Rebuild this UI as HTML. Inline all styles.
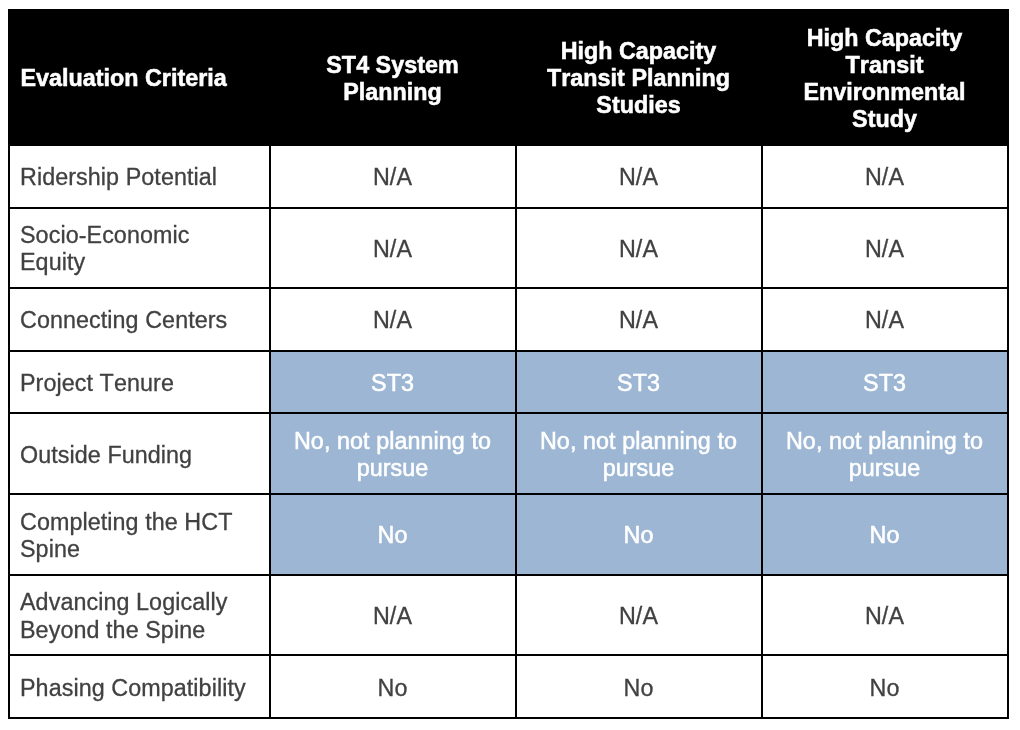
<!DOCTYPE html>
<html><head><meta charset="utf-8"><title>Evaluation Criteria</title><style>
html,body{margin:0;padding:0;background:#fff;}
body{width:1020px;height:730px;position:relative;overflow:hidden;font-family:"Liberation Sans",sans-serif;font-size:23.3px;line-height:27px;color:#414141;}
.wrap{position:absolute;left:0;top:0;width:1020px;height:730px;will-change:transform;transform:translateZ(0);}
.c span{display:block;position:relative;top:1px;letter-spacing:0.08px;font-kerning:none;-webkit-text-stroke:0.3px currentColor;}
.c:not(.l) span{left:-0.5px;}
.c.b span{-webkit-text-stroke:0.55px currentColor;}
.c.h span{letter-spacing:0.03px;-webkit-text-stroke:0.55px currentColor;}
.c span i{font-style:normal;position:relative;top:1px;}
.hd{position:absolute;left:8px;top:9px;width:1001px;height:137px;background:#000;}
.bd{position:absolute;left:8px;top:146px;width:1001px;height:573px;background:#000;}
.c{position:absolute;display:flex;align-items:center;justify-content:center;text-align:center;background:#fff;box-sizing:border-box;}
.c.l{justify-content:flex-start;text-align:left;padding-left:10px;}
.c.h{background:transparent;color:#fff;font-weight:bold;}
.c.h.l span{left:0.4px;}
.c.b{background:#9cb6d4;color:#fff;}
</style></head><body>
<div class="wrap"><div class="hd"></div><div class="bd"></div>
<div class="c h l" style="left:10px;top:9px;width:259px;height:137px"><span>Evaluation Criteria</span></div>
<div class="c h" style="left:271px;top:9px;width:244px;height:137px"><span>ST4 System<br>Planning</span></div>
<div class="c h" style="left:517px;top:9px;width:244px;height:137px"><span>High Capacity<br>Transit Planning<br>Studies</span></div>
<div class="c h" style="left:763px;top:9px;width:244px;height:137px"><span>High Capacity<br>Transit<br>Environmental<br>Study</span></div>
<div class="c l" style="left:10px;top:146px;width:259px;height:61px"><span>Ridership Potential</span></div>
<div class="c" style="left:271px;top:146px;width:244px;height:61px"><span>N/A</span></div>
<div class="c" style="left:517px;top:146px;width:244px;height:61px"><span>N/A</span></div>
<div class="c" style="left:763px;top:146px;width:244px;height:61px"><span>N/A</span></div>
<div class="c l" style="left:10px;top:209px;width:259px;height:78px"><span>Socio-Economic<br>Equity</span></div>
<div class="c" style="left:271px;top:209px;width:244px;height:78px"><span>N/A</span></div>
<div class="c" style="left:517px;top:209px;width:244px;height:78px"><span>N/A</span></div>
<div class="c" style="left:763px;top:209px;width:244px;height:78px"><span>N/A</span></div>
<div class="c l" style="left:10px;top:289px;width:259px;height:61px"><span>Connecting Centers</span></div>
<div class="c" style="left:271px;top:289px;width:244px;height:61px"><span>N/A</span></div>
<div class="c" style="left:517px;top:289px;width:244px;height:61px"><span>N/A</span></div>
<div class="c" style="left:763px;top:289px;width:244px;height:61px"><span>N/A</span></div>
<div class="c l" style="left:10px;top:352px;width:259px;height:60px"><span>Project Tenure</span></div>
<div class="c b" style="left:271px;top:352px;width:244px;height:60px"><span>ST3</span></div>
<div class="c b" style="left:517px;top:352px;width:244px;height:60px"><span>ST3</span></div>
<div class="c b" style="left:763px;top:352px;width:244px;height:60px"><span>ST3</span></div>
<div class="c l" style="left:10px;top:414px;width:259px;height:79px"><span style="top:2px">Outside Funding</span></div>
<div class="c b" style="left:271px;top:414px;width:244px;height:79px"><span>No, not planning to<br>pursue</span></div>
<div class="c b" style="left:517px;top:414px;width:244px;height:79px"><span>No, not planning to<br>pursue</span></div>
<div class="c b" style="left:763px;top:414px;width:244px;height:79px"><span>No, not planning to<br>pursue</span></div>
<div class="c l" style="left:10px;top:495px;width:259px;height:79px"><span>Completing the HCT<br>Spine</span></div>
<div class="c b" style="left:271px;top:495px;width:244px;height:79px"><span>No</span></div>
<div class="c b" style="left:517px;top:495px;width:244px;height:79px"><span>No</span></div>
<div class="c b" style="left:763px;top:495px;width:244px;height:79px"><span>No</span></div>
<div class="c l" style="left:10px;top:576px;width:259px;height:78px"><span>Advancing Logically<br><i>Beyond the Spine</i></span></div>
<div class="c" style="left:271px;top:576px;width:244px;height:78px"><span>N/A</span></div>
<div class="c" style="left:517px;top:576px;width:244px;height:78px"><span>N/A</span></div>
<div class="c" style="left:763px;top:576px;width:244px;height:78px"><span>N/A</span></div>
<div class="c l" style="left:10px;top:656px;width:259px;height:61px"><span style="top:2px">Phasing Compatibility</span></div>
<div class="c" style="left:271px;top:656px;width:244px;height:61px"><span style="top:2px">No</span></div>
<div class="c" style="left:517px;top:656px;width:244px;height:61px"><span style="top:2px">No</span></div>
<div class="c" style="left:763px;top:656px;width:244px;height:61px"><span style="top:2px">No</span></div>
</div></body></html>
